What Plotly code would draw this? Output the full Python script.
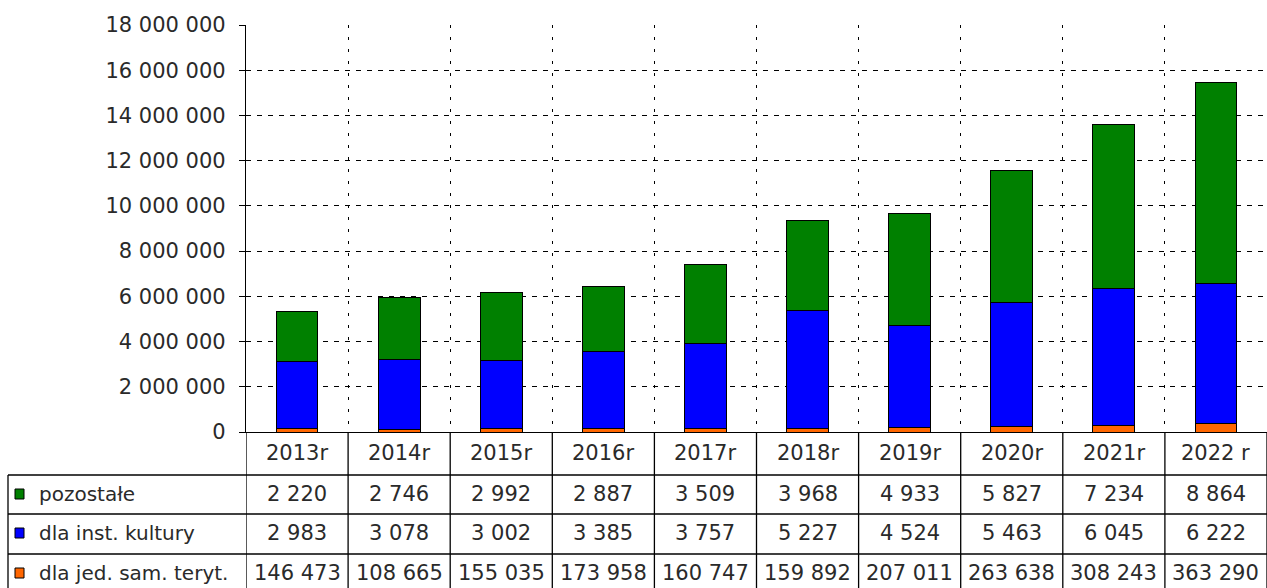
import plotly.graph_objects as go

# ---- data ----
years = ["2013r", "2014r", "2015r", "2016r", "2017r", "2018r", "2019r", "2020r", "2021r", "2022 r"]
# table shows these two series in thousands
pozostale_tys = [2220, 2746, 2992, 2887, 3509, 3968, 4933, 5827, 7234, 8864]
inst_kultury_tys = [2983, 3078, 3002, 3385, 3757, 5227, 4524, 5463, 6045, 6222]
jed_sam_teryt = [146473, 108665, 155035, 173958, 160747, 159892, 207011, 263638, 308243, 363290]
series_names = ["pozostałe", "dla inst. kultury", "dla jed. sam. teryt."]
y_tick_values = [0, 2000000, 4000000, 6000000, 8000000, 10000000, 12000000, 14000000, 16000000, 18000000]

# ---- styles ----
C_GREEN = "#008000"
C_BLUE = "#0000FF"
C_ORANGE = "#FF6600"
TXT = "#2a2a2a"
NUM_FONT = dict(family="DejaVu Sans", size=21, color=TXT)
LAB_FONT = dict(family="DejaVu Sans", size=20, color=TXT)

W_FIG, H_FIG = 1267, 588
L, R, T, B = 246, 1267, 25, 432
PW, PH = R - L, B - T


def px_x(p):
    return (p - L) / PW


def px_y(p):
    return (B - p) / PH


n = len(years)
xpos = [i + 0.5 for i in range(n)]
bar_pozostale = [v * 1000 for v in pozostale_tys]
bar_inst = [v * 1000 for v in inst_kultury_tys]

fig = go.Figure()
line = dict(color="black", width=1)
fig.add_trace(go.Bar(x=xpos, y=jed_sam_teryt, width=0.41, marker=dict(color=C_ORANGE, line=line), name=series_names[2]))
fig.add_trace(go.Bar(x=xpos, y=bar_inst, width=0.41, marker=dict(color=C_BLUE, line=line), name=series_names[1]))
fig.add_trace(go.Bar(x=xpos, y=bar_pozostale, width=0.41, marker=dict(color=C_GREEN, line=line), name=series_names[0]))


def fmt(v):
    return f"{v:,}".replace(",", " ")


shapes = []
annotations = []

# row boundaries (pixels) of the data table
row_lines = [475, 514, 554]
row_centers = [494, 533, 573]
header_center = 453
table_bottom = 600

# vertical lines for category columns (from axis down)
for k in range(n + 1):
    shapes.append(dict(type="line", xref="x", yref="paper", x0=k, x1=k,
                       y0=px_y(B), y1=px_y(table_bottom), line=dict(color="black", width=1.3)))
# left label column border
shapes.append(dict(type="line", xref="paper", yref="paper", x0=px_x(8), x1=px_x(8),
                   y0=px_y(row_lines[0]), y1=px_y(table_bottom), line=dict(color="black", width=1.3)))
# horizontal row lines
for yl in row_lines:
    shapes.append(dict(type="line", xref="paper", yref="paper", x0=px_x(8), x1=1.0,
                       y0=px_y(yl), y1=px_y(yl), line=dict(color="black", width=1.3)))

# header (years)
for i, yr in enumerate(years):
    annotations.append(dict(x=xpos[i], y=px_y(header_center), xref="x", yref="paper", text=yr,
                            showarrow=False, font=NUM_FONT, xanchor="center", yanchor="middle"))

rows = [
    (series_names[0], C_GREEN, pozostale_tys),
    (series_names[1], C_BLUE, inst_kultury_tys),
    (series_names[2], C_ORANGE, jed_sam_teryt),
]
for (name, col, vals), yc in zip(rows, row_centers):
    shapes.append(dict(type="rect", xref="paper", yref="paper", x0=px_x(15), x1=px_x(24),
                       y0=px_y(yc + 5), y1=px_y(yc - 5), fillcolor=col,
                       line=dict(color="black", width=1)))
    annotations.append(dict(x=px_x(37), y=px_y(yc), xref="paper", yref="paper", text=name,
                            showarrow=False, font=LAB_FONT, xanchor="left", yanchor="middle"))
    for i, v in enumerate(vals):
        annotations.append(dict(x=xpos[i], y=px_y(yc), xref="x", yref="paper", text=fmt(v),
                                showarrow=False, font=NUM_FONT, xanchor="center", yanchor="middle"))

fig.update_layout(
    width=W_FIG, height=H_FIG, autosize=False,
    margin=dict(l=L, r=W_FIG - R, t=T, b=H_FIG - B, pad=0),
    plot_bgcolor="white", paper_bgcolor="white",
    barmode="stack", showlegend=False,
    separators=", ",
    shapes=shapes, annotations=annotations,
    xaxis=dict(range=[0, n], tickvals=list(range(n + 1)), showticklabels=False, ticks="",
               showgrid=True, gridcolor="black", gridwidth=1, griddash="3px,9px",
               showline=True, linecolor="black", linewidth=1.3, zeroline=False, fixedrange=True),
    yaxis=dict(range=[0, 18000000], tickvals=y_tick_values, tickformat=",d",
               ticks="outside", ticklen=6, tickcolor="black", ticklabelstandoff=9,
               tickfont=NUM_FONT,
               showgrid=True, gridcolor="black", gridwidth=1, griddash="5px,6px",
               showline=True, linecolor="black", linewidth=1.3, zeroline=False, fixedrange=True),
)

fig.write_html("out.html", config={"displayModeBar": False},
               post_script="document.body.style.margin='0';")
